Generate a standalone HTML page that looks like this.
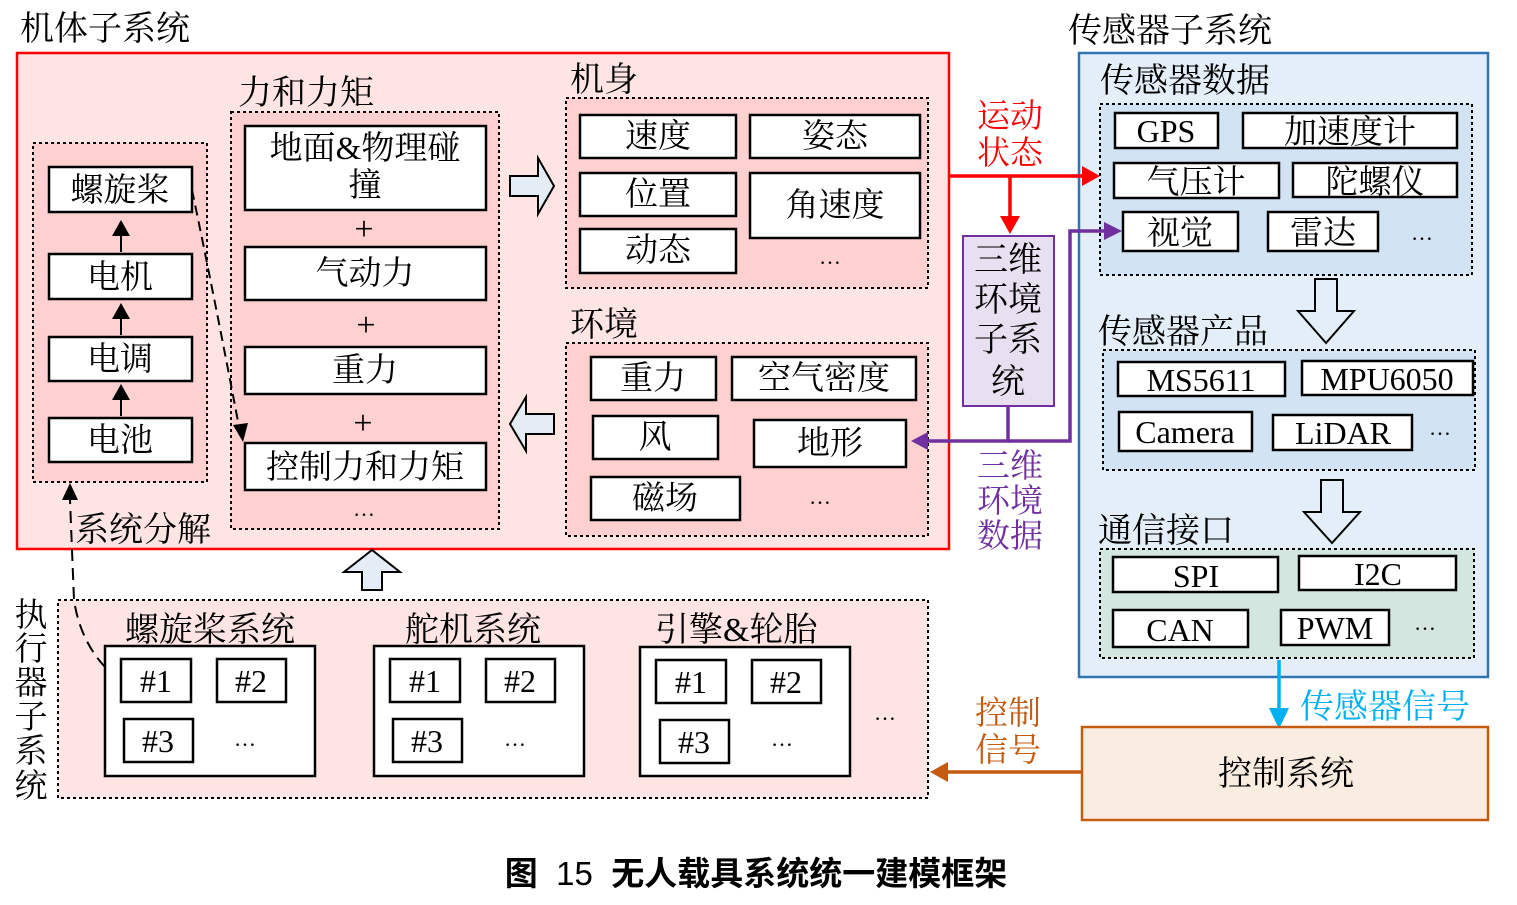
<!DOCTYPE html>
<html><head><meta charset="utf-8"><style>
html,body{margin:0;padding:0;background:#fff;width:1517px;height:905px;overflow:hidden}
svg text{font-family:"Liberation Serif","Noto Serif CJK SC",serif;fill:#000}
.c{text-anchor:middle}
.b{fill:#fff;stroke:#000;stroke-width:2.5}
.d{stroke:#000;stroke-width:2;stroke-dasharray:3 3}
</style></head><body>
<svg width="1517" height="905" viewBox="0 0 1517 905" xmlns="http://www.w3.org/2000/svg">
<!-- 机体子系统 -->
<text x="20" y="40" font-size="34">机体子系统</text>
<rect x="17" y="53" width="932" height="496" fill="#ffe4e4" stroke="#f00" stroke-width="2.5"/>
<rect x="33" y="143" width="174" height="339" fill="#ffd0d0" class="d"/>
<rect class="b" x="49" y="167" width="143" height="45"/><text class="c" x="120" y="201" font-size="33">螺旋桨</text>
<rect class="b" x="49" y="254" width="143" height="45"/><text class="c" x="120" y="288" font-size="33">电机</text>
<rect class="b" x="49" y="337" width="143" height="44"/><text class="c" x="120" y="370" font-size="33">电调</text>
<rect class="b" x="49" y="418" width="143" height="44"/><text class="c" x="120" y="451" font-size="33">电池</text>
<g stroke="#000" stroke-width="2"><line x1="121" y1="252" x2="121" y2="224"/><line x1="121" y1="335" x2="121" y2="307"/><line x1="121" y1="416" x2="121" y2="388"/></g>
<g fill="#000"><path d="M112,236 L121,220 L130,236z"/><path d="M112,319 L121,303 L130,319z"/><path d="M112,400 L121,384 L130,400z"/></g>
<text x="238" y="104" font-size="34">力和力矩</text>
<rect x="231" y="112" width="268" height="417" fill="#ffd0d0" class="d"/>
<rect class="b" x="245" y="126" width="241" height="84"/>
<text class="c" x="365" y="159" font-size="33">地面&amp;物理碰</text><text class="c" x="365" y="196" font-size="33">撞</text>
<text class="c" x="364" y="240" font-size="34">+</text>
<rect class="b" x="245" y="247" width="241" height="53"/><text class="c" x="365" y="284" font-size="33">气动力</text>
<text class="c" x="366" y="336" font-size="34">+</text>
<rect class="b" x="245" y="347" width="241" height="47"/><text class="c" x="365" y="381" font-size="33">重力</text>
<text class="c" x="363" y="434" font-size="34">+</text>
<rect class="b" x="245" y="443" width="241" height="47"/><text class="c" x="365" y="478" font-size="33">控制力和力矩</text>
<text class="c" x="364" y="516" font-size="22">…</text>
<path d="M192,190 Q215,300 240,432" fill="none" stroke="#000" stroke-width="2" stroke-dasharray="10 6"/>
<path d="M233,425 L243,442 L248,423z" fill="#000"/>
<path d="M510,176 L538,176 L538,158 L554,186 L538,214 L538,196 L510,196z" fill="#e4ecf5" stroke="#000" stroke-width="2"/>
<path d="M554,414 L526,414 L526,397 L510,424 L526,451 L526,434 L554,434z" fill="#e4ecf5" stroke="#000" stroke-width="2"/>
<text x="570" y="91" font-size="34">机身</text>
<rect x="566" y="98" width="362" height="190" fill="#ffd0d0" class="d"/>
<rect class="b" x="580" y="115" width="156" height="43"/><text class="c" x="658" y="147" font-size="33">速度</text>
<rect class="b" x="750" y="115" width="170" height="43"/><text class="c" x="835" y="147" font-size="33">姿态</text>
<rect class="b" x="580" y="173" width="156" height="43"/><text class="c" x="658" y="205" font-size="33">位置</text>
<rect class="b" x="750" y="173" width="170" height="65"/><text class="c" x="835" y="216" font-size="33">角速度</text>
<rect class="b" x="580" y="229" width="156" height="44"/><text class="c" x="658" y="261" font-size="33">动态</text>
<text class="c" x="830" y="264" font-size="22">…</text>
<text x="570" y="336" font-size="34">环境</text>
<rect x="566" y="343" width="362" height="193" fill="#ffd0d0" class="d"/>
<rect class="b" x="591" y="357" width="125" height="43"/><text class="c" x="653" y="389" font-size="33">重力</text>
<rect class="b" x="732" y="357" width="184" height="43"/><text class="c" x="824" y="389" font-size="33">空气密度</text>
<rect class="b" x="593" y="416" width="125" height="43"/><text class="c" x="655" y="448" font-size="33">风</text>
<rect class="b" x="754" y="420" width="152" height="47"/><text class="c" x="830" y="454" font-size="33">地形</text>
<rect class="b" x="591" y="477" width="149" height="43"/><text class="c" x="665" y="509" font-size="33">磁场</text>
<text class="c" x="820" y="504" font-size="22">…</text>
<!-- 传感器子系统 -->
<text x="1068" y="42" font-size="34">传感器子系统</text>
<rect x="1079" y="53" width="409" height="624" fill="#e3eef9" stroke="#2e75b6" stroke-width="2.5"/>
<text x="1100" y="92" font-size="34">传感器数据</text>
<rect x="1100" y="104" width="372" height="171" fill="#d2e3f3" class="d"/>
<rect class="b" x="1115" y="113" width="103" height="35"/><text class="c" x="1166" y="142" font-size="32">GPS</text>
<rect class="b" x="1243" y="113" width="214" height="35"/><text class="c" x="1350" y="143" font-size="33">加速度计</text>
<rect class="b" x="1114" y="163" width="165" height="35"/><text class="c" x="1196" y="193" font-size="33">气压计</text>
<rect class="b" x="1293" y="163" width="164" height="34"/><text class="c" x="1375" y="193" font-size="33">陀螺仪</text>
<rect class="b" x="1123" y="212" width="115" height="39"/><text class="c" x="1180" y="244" font-size="33">视觉</text>
<rect class="b" x="1268" y="212" width="110" height="39"/><text class="c" x="1323" y="244" font-size="33">雷达</text>
<text class="c" x="1422" y="240" font-size="22">…</text>
<path d="M1315,279 L1337,279 L1337,311 L1354,311 L1326,343 L1298,311 L1315,311z" fill="#e3eef9" stroke="#000" stroke-width="2"/>
<text x="1098" y="343" font-size="34">传感器产品</text>
<rect x="1103" y="350" width="372" height="120" fill="#d2e3f3" class="d"/>
<rect class="b" x="1118" y="362" width="167" height="34"/><text class="c" x="1201" y="391" font-size="32">MS5611</text>
<rect class="b" x="1302" y="361" width="171" height="34"/><text class="c" x="1387" y="390" font-size="32">MPU6050</text>
<rect class="b" x="1119" y="412" width="133" height="39"/><text class="c" x="1185" y="443" font-size="32">Camera</text>
<rect class="b" x="1273" y="415" width="139" height="35"/><text class="c" x="1343" y="444" font-size="32">LiDAR</text>
<text class="c" x="1440" y="435" font-size="22">…</text>
<path d="M1321,480 L1343,480 L1343,512 L1360,512 L1332,543 L1304,512 L1321,512z" fill="#e3eef9" stroke="#000" stroke-width="2"/>
<text x="1098" y="542" font-size="34">通信接口</text>
<rect x="1100" y="549" width="374" height="109" fill="#d4e6e0" class="d"/>
<rect class="b" x="1113" y="557" width="165" height="35"/><text class="c" x="1196" y="587" font-size="32">SPI</text>
<rect class="b" x="1299" y="556" width="157" height="34"/><text class="c" x="1378" y="585" font-size="32">I2C</text>
<rect class="b" x="1113" y="610" width="135" height="37"/><text class="c" x="1180" y="641" font-size="32">CAN</text>
<rect class="b" x="1281" y="610" width="108" height="35"/><text class="c" x="1335" y="639" font-size="32">PWM</text>
<text class="c" x="1425" y="630" font-size="22">…</text>
<!-- red arrows (on top) -->
<g stroke="#f00" stroke-width="3.5" fill="none"><line x1="949" y1="176" x2="1084" y2="176"/><line x1="1010" y1="176" x2="1010" y2="220"/></g>
<path d="M1082,166 L1100,176 L1082,186z" fill="#f00"/><path d="M1000,216 L1010,234 L1020,216z" fill="#f00"/>
<text class="c" x="1010" y="127" font-size="33" style="fill:#f00">运动</text>
<text class="c" x="1010" y="164" font-size="33" style="fill:#f00">状态</text>
<rect x="963" y="236" width="91" height="170" fill="#e8e0f0" stroke="#7030a0" stroke-width="2"/>
<g font-size="34"><text class="c" x="1008" y="271">三维</text><text class="c" x="1008" y="311">环境</text><text class="c" x="1008" y="351">子系</text><text class="c" x="1008" y="393">统</text></g>
<g stroke="#7030a0" stroke-width="3.5" fill="none"><polyline points="1008,406 1008,441 926,441"/><polyline points="1008,441 1070,441 1070,231 1106,231"/></g>
<path d="M928,432 L911,441 L928,450z" fill="#7030a0"/><path d="M1104,222 L1122,231 L1104,240z" fill="#7030a0"/>
<g font-size="33"><text class="c" x="1010" y="477" style="fill:#7030a0">三维</text><text class="c" x="1010" y="512" style="fill:#7030a0">环境</text><text class="c" x="1010" y="547" style="fill:#7030a0">数据</text></g>
<line x1="1279" y1="660" x2="1279" y2="712" stroke="#00b0f0" stroke-width="3.5"/>
<path d="M1269,708 L1279,729 L1289,708z" fill="#00b0f0"/>
<text x="1300" y="718" font-size="34" style="fill:#00b0f0">传感器信号</text>
<rect x="1082" y="727" width="406" height="93" fill="#f9ece1" stroke="#c55a11" stroke-width="2.5"/>
<text class="c" x="1286" y="785" font-size="34">控制系统</text>
<line x1="1082" y1="772" x2="946" y2="772" stroke="#c55a11" stroke-width="3.5"/>
<path d="M948,762 L930,772 L948,782z" fill="#c55a11"/>
<text class="c" x="1008" y="724" font-size="33" style="fill:#c55a11">控制</text>
<text class="c" x="1008" y="761" font-size="33" style="fill:#c55a11">信号</text>
<path d="M362,590 L382,590 L382,572 L400,572 L372,550 L344,572 L362,572z" fill="#e4ecf5" stroke="#000" stroke-width="2"/>
<!-- 执行器子系统 -->
<rect x="58" y="600" width="870" height="198" fill="#ffe4e4" class="d"/>
<g font-size="33"><text class="c" x="31" y="626">执</text><text class="c" x="31" y="660">行</text><text class="c" x="31" y="694">器</text><text class="c" x="31" y="728">子</text><text class="c" x="31" y="762">系</text><text class="c" x="31" y="797">统</text></g>
<path d="M105,667 Q80,640 74,600 L70,500" fill="none" stroke="#000" stroke-width="2" stroke-dasharray="12 7"/>
<path d="M62,500 L70,483 L78,500z" fill="#000"/>
<text x="75" y="541" font-size="34">系统分解</text>
<g font-size="32">
<text x="125" y="641" font-size="34">螺旋桨系统</text>
<rect class="b" x="105" y="646" width="210" height="130"/>
<rect class="b" x="121" y="659" width="70" height="43"/><text class="c" x="156" y="692">#1</text>
<rect class="b" x="217" y="659" width="69" height="43"/><text class="c" x="251" y="692">#2</text>
<rect class="b" x="124" y="719" width="69" height="43"/><text class="c" x="158" y="752">#3</text>
<text class="c" x="245" y="746" font-size="22">…</text>
<text x="405" y="641" font-size="34">舵机系统</text>
<rect class="b" x="374" y="646" width="210" height="130"/>
<rect class="b" x="390" y="659" width="70" height="43"/><text class="c" x="425" y="692">#1</text>
<rect class="b" x="486" y="659" width="69" height="43"/><text class="c" x="520" y="692">#2</text>
<rect class="b" x="393" y="719" width="69" height="43"/><text class="c" x="427" y="752">#3</text>
<text class="c" x="515" y="746" font-size="22">…</text>
<text x="655" y="641" font-size="34">引擎&amp;轮胎</text>
<rect class="b" x="640" y="647" width="210" height="129"/>
<rect class="b" x="656" y="660" width="70" height="43"/><text class="c" x="691" y="693">#1</text>
<rect class="b" x="752" y="660" width="69" height="43"/><text class="c" x="786" y="693">#2</text>
<rect class="b" x="660" y="720" width="69" height="43"/><text class="c" x="694" y="753">#3</text>
<text class="c" x="782" y="746" font-size="22">…</text>
<text class="c" x="885" y="720" font-size="22">…</text>
</g>
<text class="c" x="756" y="885" font-size="33" font-weight="bold" style="font-family:'Liberation Sans','Noto Sans CJK SC',sans-serif;white-space:pre" xml:space="preserve">图  <tspan font-weight="normal">15</tspan>  无人载具系统统一建模框架</text>
</svg>
</body></html>
